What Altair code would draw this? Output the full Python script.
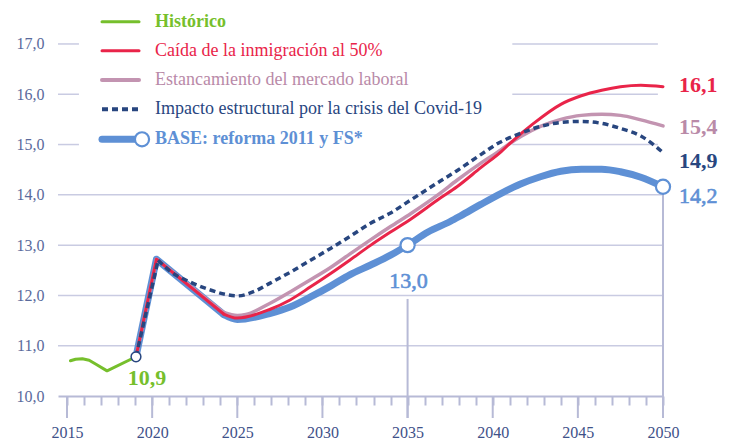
import altair as alt
import pandas as pd

# ---------------- data ----------------
hist_years = [2015.2, 2015.5, 2015.9, 2016.3, 2016.7, 2017.35, 2019.05]
hist_vals = [10.70, 10.73, 10.74, 10.71, 10.63, 10.50, 10.78]

base_years = [2019.05, 2020.25, 2024.2, 2025.0, 2026.9, 2028.1, 2029.3, 2030.5, 2031.6,
              2032.8, 2034.0, 2035.0, 2036.2, 2037.5, 2038.1, 2039.3, 2040.5, 2041.6,
              2042.8, 2044.0, 2045.2, 2046.4, 2047.5, 2048.7, 2050.0]
base_vals = [10.78, 12.72, 11.62, 11.52, 11.64, 11.77, 11.97, 12.19, 12.41,
             12.60, 12.80, 13.00, 13.26, 13.47, 13.58, 13.81, 14.03, 14.21,
             14.36, 14.47, 14.51, 14.51, 14.46, 14.35, 14.16]

red_years = [2019.05, 2020.25, 2024.2, 2025.0, 2026.9, 2028.1, 2029.3, 2030.5, 2031.6,
             2032.8, 2034.0, 2035.2, 2036.9, 2037.9, 2039.3, 2040.5, 2041.0, 2042.4,
             2044.0, 2045.2, 2046.4, 2047.5, 2048.7, 2050.0]
red_vals = [10.78, 12.72, 11.63, 11.55, 11.72, 11.91, 12.17, 12.44, 12.70,
            12.99, 13.26, 13.52, 13.93, 14.16, 14.54, 14.86, 15.02, 15.42,
            15.80, 15.97, 16.08, 16.15, 16.18, 16.15]

mauve_years = [2019.05, 2020.25, 2024.2, 2025.0, 2025.5, 2026.9, 2028.1, 2029.3, 2030.5,
               2031.6, 2032.8, 2034.0, 2035.2, 2036.9, 2037.9, 2039.3, 2040.5, 2041.0,
               2041.7, 2042.8, 2044.0, 2045.2, 2046.4, 2047.5, 2048.7, 2050.0]
mauve_vals = [10.78, 12.72, 11.66, 11.60, 11.62, 11.84, 12.07, 12.31, 12.56,
              12.82, 13.10, 13.37, 13.63, 14.03, 14.29, 14.63, 14.90, 15.02,
              15.17, 15.36, 15.50, 15.58, 15.60, 15.58, 15.49, 15.37]

covid_years = [2019.05, 2020.35, 2021.1, 2022.2, 2023.4, 2024.3, 2025.0, 2026.0, 2026.9,
               2028.1, 2029.3, 2030.5, 2031.6, 2032.8, 2034.0, 2035.2, 2036.2, 2037.9,
               2039.3, 2040.4, 2041.6, 2042.8, 2044.0, 2045.2, 2046.4, 2047.5, 2048.7, 2050.0]
covid_vals = [10.78, 12.70, 12.47, 12.27, 12.11, 12.02, 11.99, 12.08, 12.24,
              12.46, 12.70, 12.94, 13.17, 13.43, 13.64, 13.90, 14.12, 14.48,
              14.80, 15.04, 15.22, 15.36, 15.44, 15.46, 15.42, 15.32, 15.17, 14.84]

legend_names = ["Histórico", "Caída de la inmigración al 50%",
                "Estancamiento del mercado laboral",
                "Impacto estructural por la crisis del Covid-19",
                "BASE: reforma 2011 y FS*"]

y_ticks = [10, 11, 12, 13, 14, 15, 16, 17]
x_ticks = list(range(2015, 2051))
x_major = [2015, 2020, 2025, 2030, 2035, 2040, 2045, 2050]

grid_levels = [11, 12, 13, 14, 15, 15, 16, 16, 17, 17]
grid_from = [2014.47, 2014.47, 2014.47, 2014.47, 2014.47, 2041.15, 2014.47, 2041.15, 2014.47, 2041.15]
grid_to = [2050, 2050, 2050, 2050, 2015.7, 2049.7, 2015.7, 2049.7, 2015.7, 2049.7]

guide_years = [2035, 2050]
guide_tops = [11.93, 14.16]

marker_years = [2035.0, 2050.0]
marker_vals = [13.0, 14.16]
hist_end_year = [2019.05]
hist_end_val = [10.78]

end_labels = ["16,1", "15,4", "14,9", "14,2"]
label_130 = "13,0"
label_109 = "10,9"

# ---------------- style ----------------
FONT = "Liberation Serif"
GREEN = "#76bf2c"
RED = "#e92449"
MAUVE = "#c394b1"
MAUVE_TXT = "#b98aa8"
NAVY = "#28467f"
BLUE = "#5e90d5"
GRID = "#c9cbe2"
TICK = "#b7bad6"
XLAB = "#3e5189"
YLAB = "#5a6a9c"

W, H = 605, 388
xs = alt.Scale(domain=[2014.47, 2050], nice=False, zero=False)
ys = alt.Scale(domain=[10, 17.715], nice=False, zero=False)

XAX = alt.Axis(
    values=x_ticks, title=None, grid=False, domain=True, domainColor=TICK,
    domainWidth=2, ticks=True, tickSize=9, tickWidth=2, tickColor=TICK,
    labelExpr="datum.value % 5 === 0 ? '' + datum.value : ''",
    labelFont=FONT, labelFontSize=16, labelColor=XLAB, labelPadding=19,
    labelFlush=False, labelOverlap=False)
YAX = alt.Axis(
    values=y_ticks, title=None, grid=False, domain=False, ticks=False,
    labelExpr="replace(format(datum.value, '.1f'), '.', ',')",
    labelFont=FONT, labelFontSize=16, labelColor=YLAB, labelPadding=14)


def X(f):
    return alt.X(f, scale=xs, axis=XAX)


def Y(f):
    return alt.Y(f, scale=ys, axis=YAX)


def line_df(xv, yv):
    return pd.DataFrame({"year": xv, "val": yv})


# gridlines
grid_df = pd.DataFrame({"lvl": grid_levels, "x1": grid_from, "x2": grid_to})
grid = alt.Chart(grid_df).mark_rule(color=GRID, strokeWidth=1.5).encode(
    x=X("x1:Q"), x2="x2:Q", y=Y("lvl:Q"))

# major ticks
major = alt.Chart(pd.DataFrame({"year": x_major})).mark_rule(color=TICK, strokeWidth=2).encode(
    x=X("year:Q"), y=alt.value(H), y2=alt.value(H + 22))

# guide verticals
guides = alt.Chart(pd.DataFrame({"year": guide_years, "top": guide_tops})).mark_rule(
    color=TICK, strokeWidth=2).encode(
    x=X("year:Q"), y=Y("top:Q"), y2=alt.value(H + 22))


def series(xv, yv, color, width, dash=None, split=2):
    kw = dict(color=color, strokeWidth=width, strokeJoin="round")
    if dash:
        kw["strokeDash"] = dash
        kw["strokeCap"] = "butt"
    else:
        kw["strokeCap"] = "round"
    first = alt.Chart(line_df(xv[:split + 1], yv[:split + 1])).mark_line(**kw).encode(
        x=X("year:Q"), y=Y("val:Q"))
    second = alt.Chart(line_df(xv[split:], yv[split:])).mark_line(
        interpolate="monotone", **kw).encode(x=X("year:Q"), y=Y("val:Q"))
    return [first, second]


base_line = series(base_years, base_vals, BLUE, 7)
mauve_line = series(mauve_years, mauve_vals, MAUVE, 3.5)
red_line = series(red_years, red_vals, RED, 3)
covid_line = series(covid_years, covid_vals, NAVY, 3.5, dash=[6, 4], split=1)
hist_line = [alt.Chart(line_df(hist_years, hist_vals)).mark_line(
    color=GREEN, strokeWidth=3, strokeJoin="round", strokeCap="round").encode(
    x=X("year:Q"), y=Y("val:Q"))]

markers = alt.Chart(line_df(marker_years, marker_vals)).mark_point(
    shape="circle", filled=True, fill="white", stroke=BLUE, strokeWidth=2.2,
    size=200, opacity=1).encode(x=X("year:Q"), y=Y("val:Q"))
hist_marker = alt.Chart(line_df(hist_end_year, hist_end_val)).mark_point(
    shape="circle", filled=True, fill="white", stroke=NAVY, strokeWidth=1.5,
    size=95, opacity=1).encode(x=X("year:Q"), y=Y("val:Q"))


def value_label(xv, yv, text, color, dx, dy, align="left", weight="bold", size=22, semi=False):
    df = pd.DataFrame({"year": [xv], "val": [yv], "t": [text]})
    kw = dict(font=FONT, fontSize=size, fontWeight=weight, color=color, align=align,
              baseline="middle", dx=dx, dy=dy)
    if semi:
        kw["stroke"] = color
        kw["strokeWidth"] = 0.6
    return alt.Chart(df).mark_text(**kw).encode(
        x=X("year:Q"), y=Y("val:Q"), text="t:N")


labels = [
    value_label(red_years[-1], red_vals[-1], end_labels[0], RED, 16, -2),
    value_label(mauve_years[-1], mauve_vals[-1], end_labels[1], MAUVE_TXT, 16, 1),
    value_label(covid_years[-1], covid_vals[-1], end_labels[2], NAVY, 16, 8.5),
    value_label(base_years[-1], base_vals[-1], end_labels[3], BLUE, 16, 9,
                weight="normal", semi=True),
    value_label(marker_years[0], marker_vals[0], label_130, BLUE, 1, 36, align="center",
                weight="normal", semi=True),
    value_label(hist_end_year[0], hist_end_val[0], label_109, GREEN, 11, 21, align="center"),
]

# legend (manual)
leg_colors = [GREEN, RED, MAUVE, NAVY, BLUE]
leg_text_colors = [GREEN, RED, MAUVE_TXT, NAVY, BLUE]
leg_weights = ["bold", "normal", "normal", "normal", "bold"]
leg_widths = [3, 3, 4, 4, 7]
leg_rows = [13.7, 42.7, 72.0, 101.3, 131.3]
one = pd.DataFrame({"k": [0]})
legend = []
for i, name in enumerate(legend_names):
    kw = dict(color=leg_colors[i], strokeWidth=leg_widths[i])
    if i == 3:
        kw["strokeDash"] = [6, 4]
        kw["strokeCap"] = "butt"
    else:
        kw["strokeCap"] = "round"
    legend.append(alt.Chart(one).mark_rule(**kw).encode(
        x=alt.value(44), x2=alt.value(81), y=alt.value(leg_rows[i])))
    legend.append(alt.Chart(pd.DataFrame({"t": [name]})).mark_text(
        font=FONT, fontSize=18, fontWeight=leg_weights[i], color=leg_text_colors[i],
        align="left", baseline="middle").encode(
        x=alt.value(97), y=alt.value(leg_rows[i]), text="t:N"))
legend.append(alt.Chart(one).mark_point(
    shape="circle", filled=True, fill="white", stroke=BLUE, strokeWidth=2.2,
    size=200, opacity=1).encode(x=alt.value(84), y=alt.value(leg_rows[4])))

chart = alt.layer(
    grid, major, guides,
    *base_line, *mauve_line, *red_line, *covid_line, *hist_line,
    markers, hist_marker, *labels, *legend,
).properties(
    width=W, height=H, background="white",
    padding={"left": 50, "top": 0, "right": 58, "bottom": 44},
    autosize=alt.AutoSizeParams(type="none"),
).configure_view(stroke=None)

chart.save("out.html", embed_options={"renderer": "svg", "actions": False})
